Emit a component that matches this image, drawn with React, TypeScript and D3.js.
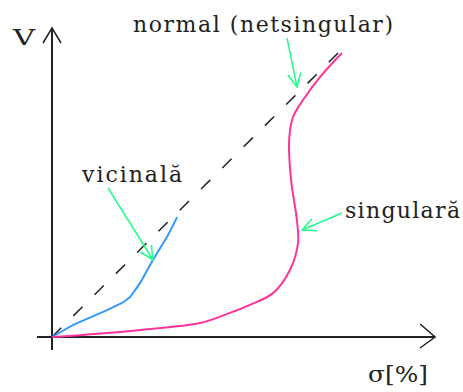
import React from "react";
import * as d3 from "d3";

// σ [%] and V in arbitrary chart units (0..100)
const singularSigma = [0, 7.3, 14.3, 22.9, 38.4, 46.2, 51.4, 57.4, 61.8, 63.9, 63.6, 62.1, 61.6, 62.6, 65.2, 69.6, 75.3];
const singularV = [0, 0.6, 1.3, 2.3, 4.5, 7.8, 10.4, 14.2, 21.7, 30.4, 37.9, 50.8, 63.8, 71.2, 76.7, 84.1, 91.9];
const vicinalSigma = [0, 5.5, 14.3, 18.2, 20.3, 22.9, 26.2, 29.9, 32.5];
const vicinalV = [0, 3.9, 8.7, 11.0, 12.9, 17.5, 24.9, 32.4, 38.8];
const normalSigma = [0, 75.6];
const normalV = [0, 93.5];

const seriesLabels = ["normal (netsingular)", "vicinală", "singulară"];
const axisLabels = ["V", "σ[%]"];

const W = 463;
const H = 392;

export default function App() {
  const x = d3.scaleLinear().domain([0, 100]).range([52, 437]);
  const y = d3.scaleLinear().domain([0, 100]).range([337, 28]);

  const zip = (xs: number[], ys: number[]) => xs.map((v, i) => [v, ys[i]] as [number, number]);
  const lineCurve = d3
    .line<[number, number]>()
    .x((d) => x(d[0]))
    .y((d) => y(d[1]))
    .curve(d3.curveCatmullRom.alpha(0.5));
  const lineStraight = d3
    .line<[number, number]>()
    .x((d) => x(d[0]))
    .y((d) => y(d[1]));

  const green = "#22ff88";
  const ink = "#222";
  const font = "'DejaVu Serif', serif";

  // annotation arrows in chart units: [from, to]
  const px = (sx: number) => (sx - 52) / 3.85;
  const py = (sy: number) => (337 - sy) / 3.09;
  const arrows: [number, number, number, number][] = [
    [px(287), py(38), px(297), py(87)],
    [px(108), py(188), px(153), py(260)],
    [px(342), py(213), px(302), py(230)],
  ];

  const arrowHead = (x1: number, y1: number, x2: number, y2: number, len = 15, ang = 0.45) => {
    const a = Math.atan2(y2 - y1, x2 - x1);
    const p1 = [x2 - len * Math.cos(a - ang), y2 - len * Math.sin(a - ang)];
    const p2 = [x2 - len * Math.cos(a + ang), y2 - len * Math.sin(a + ang)];
    return `M${p1[0]},${p1[1]}L${x2},${y2}L${p2[0]},${p2[1]}`;
  };

  const x0 = x(0);
  const y0 = y(0);
  const xEnd = x(haveEnd(100));
  const yTop = y(100);

  function haveEnd(v: number) {
    return v - 0.5;
  }

  return (
    <svg
      width={W}
      height={H}
      style={{ position: "absolute", left: 0, top: 0, background: "#fff" }}
    >
      <rect width={W} height={H} fill="#fff" />
      {/* axes */}
      <line x1={x0} y1={350} x2={x0} y2={yTop} stroke={ink} strokeWidth={2} />
      <line x1={37} y1={y0} x2={xEnd} y2={y0} stroke={ink} strokeWidth={2} />
      <path
        d={`M${x0 - 9},${yTop + 15}L${x0},${yTop}L${x0 + 9},${yTop + 15}`}
        fill="none"
        stroke={ink}
        strokeWidth={1.5}
      />
      <path
        d={`M${xEnd - 15},${y0 - 13}L${xEnd},${y0}L${xEnd - 15},${y0 + 11}`}
        fill="none"
        stroke={ink}
        strokeWidth={1.5}
      />

      {/* normal dashed */}
      <path
        d={lineStraight(zip(normalSigma, normalV)) || ""}
        fill="none"
        stroke={ink}
        strokeWidth={1.5}
        strokeDasharray="13 17"
      />
      {/* vicinal */}
      <path
        d={lineStraight(zip(vicinalSigma, vicinalV)) || ""}
        fill="none"
        stroke="#3399ff"
        strokeWidth={2}
      />
      {/* singular */}
      <path
        d={lineCurve(zip(singularSigma, singularV)) || ""}
        fill="none"
        stroke="#ff3399"
        strokeWidth={2}
      />

      {/* green annotation arrows */}
      {arrows.map((a, i) => {
        const X1 = x(a[0]);
        const Y1 = y(a[1]);
        const X2 = x(a[2]);
        const Y2 = y(a[3]);
        return (
          <g key={i} fill="none" stroke={green} strokeWidth={1.5}>
            <line x1={X1} y1={Y1} x2={X2} y2={Y2} />
            <path d={arrowHead(X1, Y1, X2, Y2)} />
          </g>
        );
      })}

      {/* labels */}
      <g fontFamily={font} fontSize={22} fill={ink}>
        <text x={13} y={45} textLength={22} lengthAdjust="spacingAndGlyphs">
          {axisLabels[0]}
        </text>
        <text x={368} y={382} textLength={60} lengthAdjust="spacingAndGlyphs">
          {axisLabels[1]}
        </text>
        <text x={133} y={32} textLength={260} lengthAdjust="spacing">
          {seriesLabels[0]}
        </text>
        <text x={82} y={182} textLength={100} lengthAdjust="spacing">
          {seriesLabels[1]}
        </text>
        <text x={345} y={218} textLength={115} lengthAdjust="spacing">
          {seriesLabels[2]}
        </text>
      </g>
    </svg>
  );
}
